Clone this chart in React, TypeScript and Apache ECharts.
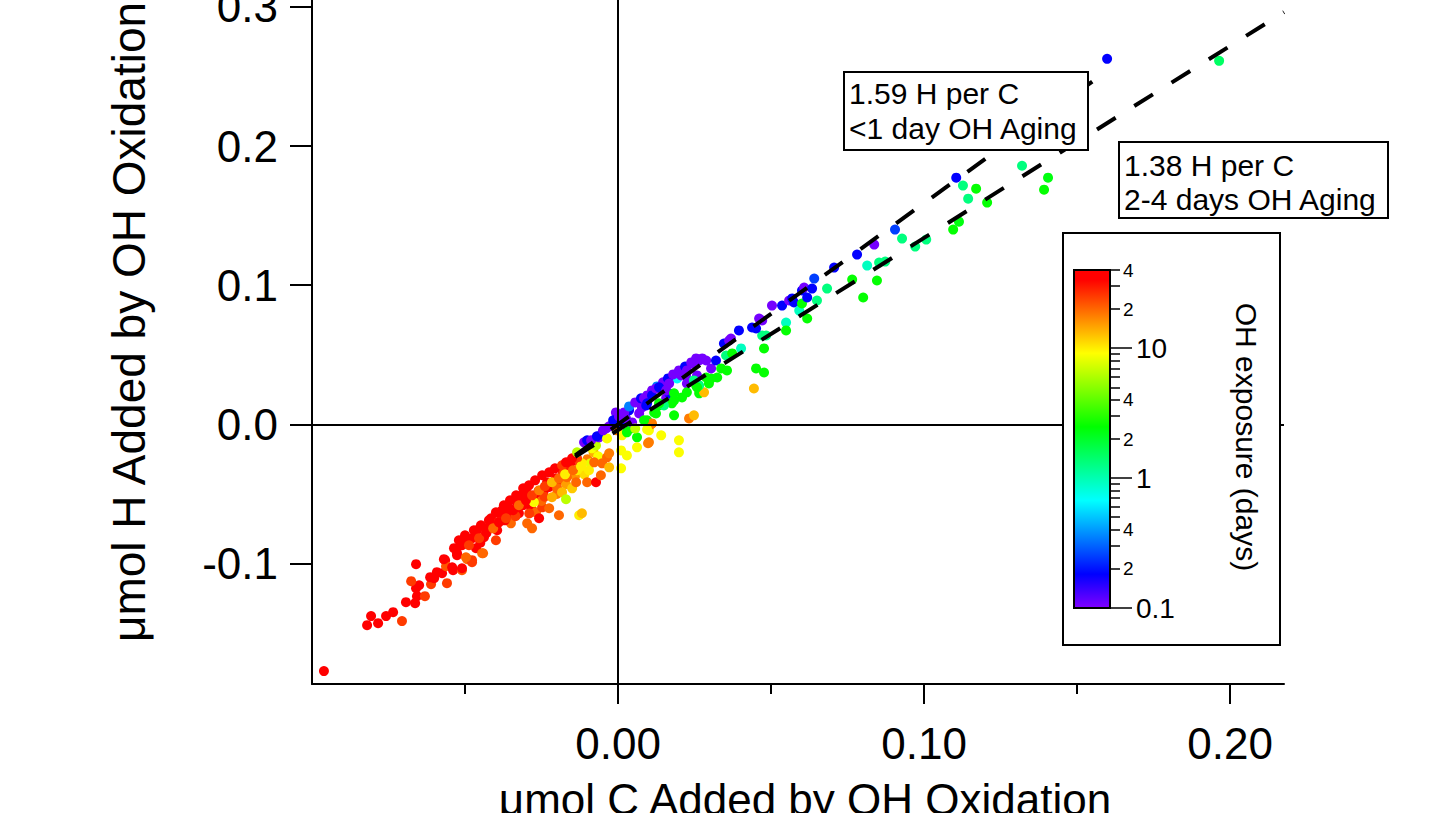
import React, { useEffect, useRef } from "react";
import * as echarts from "echarts";

const FONT = "'Liberation Sans', Arial, Helvetica, sans-serif";

// Each point: [µmol C added, µmol H added, OH exposure (days)]
const tailPoints: number[][] = [
  [-0.0961, -0.1773, 35], [-0.082, -0.1443, 35], [-0.0807, -0.1378, 35], [-0.0784, -0.1429, 35],
  [-0.0758, -0.1378, 35], [-0.0735, -0.135, 35], [-0.0706, -0.1414, 25], [-0.0693, -0.1278, 35],
  [-0.0663, -0.1285, 35], [-0.0657, -0.1235, 35], [-0.0631, -0.1235, 25], [-0.066, -0.1177, 35],
  [-0.065, -0.1156, 35], [-0.0676, -0.1127, 25], [-0.066, -0.1005, 35], [-0.0611, -0.1149, 25],
  [-0.0614, -0.1098, 35], [-0.0601, -0.1106, 35], [-0.0592, -0.1062, 35], [-0.0575, -0.107, 35],
  [-0.0559, -0.1141, 25], [-0.0565, -0.0976, 35], [-0.0562, -0.1019, 22], [-0.0539, -0.1048, 35],
  [-0.051, -0.1048, 22], [-0.0526, -0.0926, 35], [-0.0513, -0.0869, 35], [-0.0493, -0.0969, 20],
  [-0.0477, -0.0991, 25], [-0.0441, -0.0926, 20], [-0.0503, -0.0847, 35], [-0.0477, -0.0818, 35],
];

const redCluster: number[][] = [
  [-0.0569, -0.0969, 35], [-0.0542, -0.1027, 35], [-0.051, -0.1034, 35], [-0.0526, -0.094, 35],
  [-0.051, -0.0869, 35], [-0.0487, -0.0833, 35], [-0.0477, -0.0976, 25], [-0.0497, -0.0955, 20],
  [-0.0464, -0.089, 35], [-0.0461, -0.0761, 35], [-0.0444, -0.0926, 20], [-0.0438, -0.0811, 35],
  [-0.0422, -0.0739, 35], [-0.0415, -0.0675, 35], [-0.0399, -0.0833, 25], [-0.0395, -0.0761, 35],
  [-0.0382, -0.0653, 35], [-0.0379, -0.0617, 35], [-0.0356, -0.0639, 35], [-0.035, -0.0711, 20],
  [-0.033, -0.056, 35], [-0.0324, -0.0639, 35], [-0.0314, -0.051, 35], [-0.0301, -0.0474, 35],
  [-0.0297, -0.0711, 20], [-0.0281, -0.0747, 20], [-0.0284, -0.0596, 35], [-0.0268, -0.0632, 20],
  [-0.0258, -0.0675, 35], [-0.0248, -0.0596, 25], [-0.0242, -0.0474, 35], [-0.0232, -0.0416, 35],
  [-0.045, -0.085, 35], [-0.043, -0.078, 35], [-0.0405, -0.072, 35], [-0.039, -0.07, 30],
  [-0.037, -0.069, 35], [-0.036, -0.06, 35], [-0.034, -0.061, 35], [-0.0335, -0.066, 25],
  [-0.031, -0.058, 35], [-0.03, -0.054, 35], [-0.029, -0.064, 25], [-0.027, -0.052, 35],
  [-0.026, -0.048, 35], [-0.025, -0.055, 20], [-0.024, -0.052, 25], [-0.0225, -0.045, 35],
  [-0.021, -0.042, 30], [-0.02, -0.05, 18], [-0.019, -0.04, 25], [-0.018, -0.035, 35],
  [-0.017, -0.043, 15], [-0.016, -0.032, 30], [-0.015, -0.046, 12], [-0.014, -0.037, 16],
  [-0.0125, -0.03, 25], [-0.011, -0.036, 11], [-0.01, -0.025, 18], [-0.009, -0.028, 8],
  [-0.008, -0.02, 14], [-0.0065, -0.023, 9],
  [-0.0275, -0.056, 9], [-0.0225, -0.0603, 20], [-0.0216, -0.0524, 14], [-0.0203, -0.0388, 35],
  [-0.0199, -0.0459, 20], [-0.0193, -0.0653, 20], [-0.0186, -0.0316, 25], [-0.0183, -0.0488, 13],
  [-0.017, -0.0538, 6.5], [-0.0167, -0.038, 20], [-0.0154, -0.0273, 35], [-0.0137, -0.0416, 20],
  [-0.0134, -0.033, 10], [-0.0127, -0.0653, 10], [-0.0118, -0.0639, 13], [-0.0118, -0.028, 10],
  [-0.0101, -0.0416, 20], [-0.0095, -0.033, 10], [-0.0072, -0.0416, 35], [-0.0078, -0.0273, 20],
  [-0.0056, -0.0366, 20], [-0.0052, -0.028, 20], [-0.0036, -0.0237, 20], [-0.0029, -0.0309, 13],
  [-0.0536, -0.089, 35], [-0.052, -0.0833, 35], [-0.05, -0.0797, 35], [-0.0487, -0.0869, 25],
  [-0.0471, -0.0761, 35], [-0.0454, -0.0818, 25], [-0.0448, -0.0725, 35], [-0.0431, -0.0775, 35],
  [-0.0422, -0.0689, 35], [-0.0408, -0.0747, 20], [-0.0399, -0.0632, 35], [-0.0389, -0.0704, 35],
  [-0.0373, -0.0581, 35], [-0.0366, -0.0675, 25], [-0.0353, -0.0546, 35], [-0.0343, -0.0617, 35],
  [-0.0333, -0.051, 35], [-0.0324, -0.0581, 20], [-0.031, -0.0459, 35], [-0.0301, -0.0546, 35],
  [-0.0291, -0.0438, 35], [-0.0281, -0.051, 25], [-0.0271, -0.0402, 35], [-0.0258, -0.0474, 18],
  [-0.0248, -0.0366, 35], [-0.0239, -0.0445, 25], [-0.0225, -0.0345, 35], [-0.0216, -0.0416, 13],
  [-0.0206, -0.0316, 35], [-0.0193, -0.0388, 20], [-0.0183, -0.0294, 25], [-0.0173, -0.0359, 10],
  [-0.016, -0.0273, 35], [-0.0147, -0.033, 20], [-0.0134, -0.0244, 25], [-0.0121, -0.0302, 10],
];

const originPoints: number[][] = [
  [-0.017, -0.0273, 35], [-0.015, -0.0244, 35], [-0.0134, -0.0201, 6.5], [-0.0111, -0.0129, 0.105],
  [-0.0101, -0.0115, 0.18], [-0.0085, -0.0172, 9], [-0.0072, -0.0151, 6.5], [-0.0062, -0.0093, 0.105],
  [-0.0052, -0.0065, 0.18], [-0.0039, -0.0029, 0.105], [-0.0036, -0.0101, 9], [-0.0029, -0.0208, 18],
  [-0.002, -0.0007, 0.105], [-0.0007, 0.0086, 0.105], [-0.0003, -0.0043, 18], [0.001, 0.0007, 0.18],
  [0.0013, -0.0079, 9], [0.001, -0.0187, 9], [0.001, -0.0316, 9], [0.0026, 0.0043, 0.105],
  [0.0029, -0.0223, 9], [0.0036, 0.0101, 0.18], [0.0042, -0.0029, 2.5], [0.0046, 0.0014, 0.105],
  [0.0062, -0.0093, 2.5], [0.0062, -0.0165, 9], [0.0069, 0.0079, 0.105], [0.0078, 0.0122, 0.105],
  [0.0092, 0.0136, 0.18], [0.0095, 0.0029, 2.5], [0.0101, -0.0043, 9], [0.0101, -0.0129, 18],
  [0.0111, 0.0007, 18], [0.0124, 0.0079, 2.5], [0.0134, 0.0136, 2.5], [0.0141, -0.0079, 9],
  [0.0134, 0.0258, 0.18], [0.0157, 0.0187, 0.105], [0.0167, 0.0223, 0.18], [0.0176, 0.0151, 2.5],
  [0.0183, 0.0065, 2.5], [0.0193, 0.033, 0.67], [0.0199, -0.0115, 9], [0.0199, -0.0201, 9],
  [0.0209, 0.0194, 2.5], [0.0216, 0.0352, 0.105], [0.0225, 0.0294, 0.105], [0.0232, 0.0043, 18],
  [0.0248, 0.0065, 13], [0.0255, 0.028, 2.5], [0.0258, 0.0352, 0.105], [0.0265, 0.0223, 2.5],
  [0.0281, 0.023, 13], [0.0288, 0.0337, 2.5], [0.0108, 0.0, 18], [0.0095, -0.0036, 9],
  [0.0098, -0.0136, 18],
  [0.0029, -0.0057, 2.5], [0.0056, -0.0029, 6.5], [0.0085, 0.0029, 2.5], [0.0118, 0.0086, 2.5],
  [0.015, 0.0136, 1.3], [0.0183, 0.0172, 2.5], [0.0225, 0.023, 2.5], [0.0265, 0.028, 1.3],
  [0.0304, 0.033, 2.5],
];

const violetBand: number[][] = [
  [-0.0088, -0.0115, 0.105], [-0.0069, -0.0086, 0.18], [-0.0049, -0.0043, 0.105], [-0.0029, -0.0014, 0.105],
  [-0.0016, 0.0029, 0.18], [0.0003, 0.0057, 0.105], [0.002, 0.0086, 0.105], [0.0036, 0.0129, 0.35],
  [0.0056, 0.0158, 0.105], [0.0075, 0.0187, 0.18], [0.0095, 0.0208, 0.105], [0.0111, 0.0244, 0.105],
  [0.0127, 0.0273, 0.35], [0.0147, 0.0302, 0.105], [0.0163, 0.033, 0.18], [0.018, 0.0359, 0.105],
  [0.0199, 0.0388, 0.105], [0.0219, 0.0416, 0.18], [0.0239, 0.0445, 0.105], [0.0255, 0.0474, 0.105],
];

const midPoints: number[][] = [
  [0.0085, 0.0187, 0.105], [0.0095, 0.0151, 0.18], [0.0111, 0.0208, 0.18], [0.0124, 0.0258, 0.105],
  [0.0134, 0.0266, 0.18], [0.0134, 0.0151, 2.5], [0.0157, 0.0244, 0.105], [0.0167, 0.0294, 0.105],
  [0.0183, 0.0223, 2.5], [0.0206, 0.0352, 0.105], [0.0222, 0.0352, 0.105], [0.0225, 0.0388, 0.105],
  [0.0242, 0.0438, 0.105], [0.0248, 0.0316, 1.3], [0.0258, 0.0266, 2.5], [0.0265, 0.0459, 0.105],
  [0.0275, 0.0474, 0.105], [0.0288, 0.0459, 0.105], [0.0297, 0.0294, 2.5], [0.0304, 0.0402, 0.105],
  [0.032, 0.0459, 0.18], [0.0324, 0.0337, 2.5], [0.0337, 0.0402, 2.5], [0.0353, 0.0495, 1.3],
  [0.0356, 0.0388, 2.5], [0.0346, 0.0581, 0.18], [0.0363, 0.0603, 0.105], [0.0369, 0.0617, 0.105],
  [0.0373, 0.051, 2.5], [0.0395, 0.0675, 0.18], [0.0402, 0.0546, 0.93], [0.0444, 0.0258, 13],
  [0.0451, 0.0402, 2.5], [0.0477, 0.0373, 2.5], [0.0471, 0.0639, 1.3], [0.0484, 0.0639, 1.3],
  [0.0477, 0.0546, 2.5], [0.0438, 0.0696, 0.18], [0.0451, 0.0689, 0.18], [0.0461, 0.0761, 0.105],
  [0.0471, 0.0747, 0.105], [0.0503, 0.0854, 0.105], [0.0536, 0.0854, 0.18], [0.0549, 0.0732, 0.93],
  [0.0549, 0.0675, 2.5], [0.0559, 0.089, 0.105], [0.0569, 0.0905, 0.18], [0.0575, 0.0876, 0.18],
  [0.0592, 0.0818, 0.93], [0.0601, 0.0869, 2.5], [0.0618, 0.0761, 2.5], [0.0601, 0.0962, 0.18],
  [0.0608, 0.0983, 0.105], [0.0618, 0.0912, 0.18], [0.0634, 0.0976, 0.18], [0.0641, 0.1048, 0.25],
];

const upperPoints: number[][] = [
  [0.065, 0.089, 1.3], [0.0683, 0.0976, 1.3], [0.0706, 0.1127, 0.18], [0.0765, 0.1041, 2.5],
  [0.0781, 0.122, 0.18], [0.0801, 0.0912, 2.5], [0.0814, 0.1141, 0.93], [0.0837, 0.1292, 0.105],
  [0.0846, 0.1034, 2.5], [0.0853, 0.1163, 1.3], [0.0873, 0.117, 1.3], [0.0905, 0.14, 0.25],
  [0.0928, 0.1335, 1.3], [0.0971, 0.1278, 1.3], [0.1007, 0.1328, 1.3], [0.1095, 0.14, 2.5],
  [0.1114, 0.1457, 2.3], [0.1105, 0.1773, 0.18], [0.1127, 0.1716, 1.3], [0.1144, 0.1622, 1.3],
  [0.117, 0.1694, 2.5], [0.1206, 0.1594, 2.5], [0.132, 0.1859, 1.3], [0.1405, 0.1773, 2.3],
  [0.1392, 0.1687, 2.5], [0.1598, 0.2627, 0.18], [0.1964, 0.2613, 1.5],
];

// Linear fits shown as dashed lines
const fitSlopes = [1.59, 1.38];
const fitIntercepts = [0.0, -0.004];
const fitXStart = [-0.014, -0.014];
const fitXEnd = [0.155, 0.2176];

// Axes
const xRange = [-0.1, 0.2176];
const yRange = [-0.1866, 0.305];
const xMajorTicks = [0, 0.1, 0.2];
const xMinorTicks = [-0.05, 0.05, 0.15];
const yTicks = [-0.1, 0, 0.1, 0.2, 0.3];

// Colour bar (log scale, days)
const cbRange = [0.1, 40];
const cbMajor = [0.1, 1, 10];
const cbLabeled = [0.2, 0.4, 2, 4, 20, 40];
const cbMinor = [0.3, 0.5, 0.6, 0.7, 0.8, 0.9, 3, 5, 6, 7, 8, 9, 30];

const rainbowStops: [number, string][] = [
  [0, "#8000ff"], [0.1, "#0000ff"], [0.209, "#0080ff"], [0.318, "#00ffff"], [0.427, "#00ff80"],
  [0.536, "#00ff00"], [0.645, "#80ff00"], [0.754, "#ffff00"], [0.863, "#ff8000"], [0.972, "#ff0000"],
  [1, "#ff0000"],
];

function hexRgb(h: string) {
  return [parseInt(h.slice(1, 3), 16), parseInt(h.slice(3, 5), 16), parseInt(h.slice(5, 7), 16)];
}
function rainbowAt(t: number) {
  for (let i = 0; i < rainbowStops.length - 1; i++) {
    const [o0, c0] = rainbowStops[i];
    const [o1, c1] = rainbowStops[i + 1];
    if (t <= o1) {
      const f = o1 === o0 ? 0 : (t - o0) / (o1 - o0);
      const a = hexRgb(c0), b = hexRgb(c1);
      const c = a.map((v, k) => Math.round(v + (b[k] - v) * f));
      return `rgb(${c[0]},${c[1]},${c[2]})`;
    }
  }
  return rainbowStops[rainbowStops.length - 1][1];
}

export default function App() {
  const ref = useRef<HTMLDivElement>(null);
  useEffect(() => {
    if (!ref.current) return;
    const chart = echarts.init(ref.current, undefined, { renderer: "svg" });
    const lg = (v: number) => Math.log10(v);
    const allPoints = [...tailPoints, ...redCluster, ...originPoints, ...violetBand, ...midPoints, ...upperPoints];
    const scatterData = allPoints.map((p) => [p[0], p[1], lg(p[2])]);
    const visualColors = Array.from({ length: 101 }, (_, i) => rainbowAt(i / 100));

    const fitSeries = fitSlopes.map((m, i) => ({
      type: "line",
      xAxisIndex: 0,
      yAxisIndex: 0,
      symbol: "none",
      silent: true,
      z: 4,
      lineStyle: { color: "#000", width: 4, type: [22, 22] },
      data: [
        [fitXStart[i], m * fitXStart[i] + fitIntercepts[i]],
        [fitXEnd[i], m * fitXEnd[i] + fitIntercepts[i]],
      ],
    }));

    const labelStyle = { color: "#000", fontFamily: FONT };
    const cbAxisBase = {
      type: "value",
      gridIndex: 1,
      position: "right",
      min: lg(cbRange[0]),
      max: lg(cbRange[1]),
      z: 95,
      axisLine: { show: false, onZero: false },
      splitLine: { show: false },
    };
    const digit = (v: number) => {
      const val = Math.pow(10, v);
      return String(Math.round(val / Math.pow(10, Math.floor(v + 1e-9))));
    };

    chart.setOption({
      animation: false,
      backgroundColor: "#fff",
      grid: [
        { left: 312, top: 0, width: 972, height: 684, containLabel: false, outerBoundsMode: "none" },
        { left: 1074, top: 270, width: 36, height: 338, containLabel: false, outerBoundsMode: "none" },
      ],
      xAxis: [
        {
          type: "value", gridIndex: 0, position: "bottom", min: xRange[0], max: xRange[1],
          axisLine: { show: true, onZero: false, lineStyle: { color: "#000", width: 2 } },
          axisTick: { show: true, customValues: xMajorTicks, length: 20, lineStyle: { color: "#000", width: 2 } },
          axisLabel: {
            show: true, customValues: xMajorTicks, formatter: (v: number) => v.toFixed(2),
            fontSize: 44, margin: 37, ...labelStyle,
          },
          splitLine: { show: false },
        },
        {
          type: "value", gridIndex: 0, position: "bottom", min: xRange[0], max: xRange[1],
          axisLine: { show: false, onZero: false },
          axisTick: { show: true, customValues: xMinorTicks, length: 10, lineStyle: { color: "#000", width: 2 } },
          axisLabel: { show: false },
          splitLine: { show: false },
        },
        { type: "value", gridIndex: 1, min: 0, max: 1, show: false, axisLine: { onZero: false } },
      ],
      yAxis: [
        {
          type: "value", gridIndex: 0, position: "left", min: yRange[0], max: yRange[1],
          axisLine: { show: true, onZero: false, lineStyle: { color: "#000", width: 2 } },
          axisTick: { show: true, customValues: yTicks, length: 22, lineStyle: { color: "#000", width: 2 } },
          axisLabel: {
            show: true, customValues: yTicks, formatter: (v: number) => v.toFixed(1),
            fontSize: 44, margin: 34, ...labelStyle,
          },
          splitLine: { show: false },
        },
        {
          ...cbAxisBase,
          axisTick: { show: true, customValues: cbMajor.map(lg), length: 22, lineStyle: { color: "#000", width: 1.5 } },
          axisLabel: {
            show: true, customValues: cbMajor.map(lg),
            formatter: (v: number) => String(+Math.pow(10, v).toPrecision(3)),
            fontSize: 28, margin: 26, ...labelStyle,
          },
        },
        {
          ...cbAxisBase,
          axisTick: { show: true, customValues: cbLabeled.map(lg), length: 10, lineStyle: { color: "#000", width: 1.5 } },
          axisLabel: {
            show: true, customValues: cbLabeled.map(lg), formatter: digit,
            fontSize: 19, margin: 13, ...labelStyle,
          },
        },
        {
          ...cbAxisBase,
          axisTick: { show: true, customValues: cbMinor.map(lg), length: 10, lineStyle: { color: "#000", width: 1.5 } },
          axisLabel: { show: false },
        },
      ],
      visualMap: {
        type: "continuous",
        show: false,
        seriesIndex: 0,
        dimension: 2,
        min: lg(cbRange[0]),
        max: lg(cbRange[1]),
        inRange: { color: visualColors },
      },
      series: [
        {
          type: "scatter",
          xAxisIndex: 0,
          yAxisIndex: 0,
          symbolSize: 10,
          z: 2,
          silent: true,
          itemStyle: { opacity: 1 },
          data: scatterData,
        },
        {
          type: "line",
          xAxisIndex: 0,
          yAxisIndex: 0,
          data: [],
          z: 1,
          silent: true,
          markLine: {
            silent: true,
            symbol: ["none", "none"],
            label: { show: false },
            lineStyle: { color: "#000", width: 2, type: "solid" },
            data: [{ xAxis: 0 }, { yAxis: 0 }],
          },
        },
        ...fitSeries,
        { type: "scatter", xAxisIndex: 2, yAxisIndex: 1, data: [] },
      ],
      graphic: [
        {
          type: "text", x: 129, y: 322, rotation: Math.PI / 2, z: 50,
          style: {
            text: "μmol H Added by OH Oxidation", fontSize: 46, fontFamily: FONT, fill: "#000",
            textAlign: "center", textVerticalAlign: "middle",
          },
        },
        {
          type: "text", x: 805, y: 799, z: 50,
          style: {
            text: "μmol C Added by OH Oxidation", fontSize: 44, fontFamily: FONT, fill: "#000",
            textAlign: "center", textVerticalAlign: "middle",
          },
        },
        {
          type: "rect", z: 100,
          shape: { x: 844, y: 72, width: 244, height: 78 },
          style: { fill: "#fff", stroke: "#000", lineWidth: 2 },
        },
        {
          type: "text", x: 849, y: 111, z: 101,
          style: {
            text: "1.59 H per C\n<1 day OH Aging", fontSize: 30, lineHeight: 35, fontFamily: FONT,
            fill: "#000", textAlign: "left", textVerticalAlign: "middle",
          },
        },
        {
          type: "rect", z: 100,
          shape: { x: 1119, y: 142, width: 269, height: 76 },
          style: { fill: "#fff", stroke: "#000", lineWidth: 2 },
        },
        {
          type: "text", x: 1124, y: 182, z: 101,
          style: {
            text: "1.38 H per C\n2-4 days OH Aging", fontSize: 30, lineHeight: 34, fontFamily: FONT,
            fill: "#000", textAlign: "left", textVerticalAlign: "middle",
          },
        },
        {
          type: "rect", z: 90,
          shape: { x: 1063, y: 233, width: 217, height: 412 },
          style: { fill: "#fff", stroke: "#000", lineWidth: 2 },
        },
        {
          type: "rect", z: 92,
          shape: { x: 1074, y: 270, width: 36, height: 338 },
          style: {
            fill: {
              type: "linear", x: 0, y: 1, x2: 0, y2: 0,
              colorStops: rainbowStops.map(([o, c]) => ({ offset: o, color: c })),
            },
            stroke: "#000",
            lineWidth: 2,
          },
        },
        {
          type: "text", x: 1246, y: 437, rotation: -Math.PI / 2, z: 95,
          style: {
            text: "OH exposure (days)", fontSize: 30, fontFamily: FONT, fill: "#000",
            textAlign: "center", textVerticalAlign: "middle",
          },
        },
      ],
    });
    return () => chart.dispose();
  }, []);

  return (
    <div
      ref={ref}
      style={{ position: "absolute", left: 0, top: 0, width: 1447, height: 813, background: "#fff" }}
    />
  );
}
